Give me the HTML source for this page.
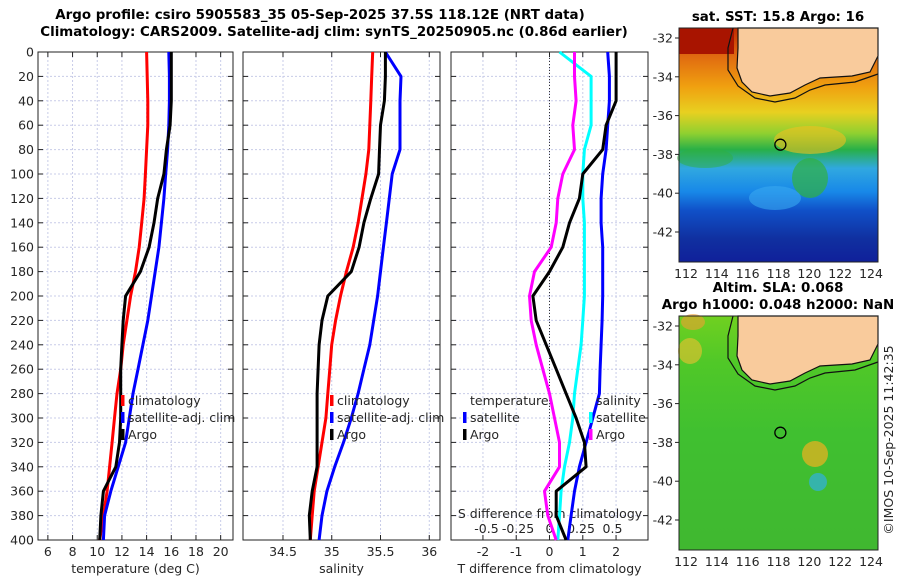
<!DOCTYPE html>
<html><head><meta charset="utf-8"><style>
body{margin:0;background:#fff}
svg{display:block;font-family:"DejaVu Sans","Liberation Sans",sans-serif}
.t{font-size:12.5px;fill:#262626}
.b{font-weight:bold;font-size:13.4px;fill:#000}
</style></head><body>
<svg id="c" width="900" height="580" xmlns="http://www.w3.org/2000/svg">
<text class="b" x="320" y="19" text-anchor="middle">Argo profile: csiro 5905583_35 05-Sep-2025 37.5S 118.12E (NRT data)</text>
<text class="b" x="334" y="36" text-anchor="middle">Climatology: CARS2009. Satellite-adj clim: synTS_20250905.nc (0.86d earlier)</text>
<g id="panels"></g>
<g id="maps"></g>
<text class="t" x="0" y="0" transform="translate(893,440) rotate(-90)" text-anchor="middle">©IMOS 10-Sep-2025 11:42:35</text>
</svg>
<script>
const depths=[0,20,40,60,80,100,120,140,160,180,200,220,240,260,280,300,320,340,360,380,400];
const tClim=[14,14.05,14.1,14.1,14,13.9,13.8,13.6,13.4,13.1,12.7,12.4,12.1,11.9,11.6,11.4,11.2,11,10.8,10.5,10.2];
const tSat=[15.8,15.85,15.85,15.8,15.7,15.55,15.4,15.2,15,14.7,14.4,14.1,13.7,13.3,12.9,12.6,12.3,11.7,11.1,10.6,10.5];
const tArgo=[16,16,16,15.9,15.6,15.4,14.9,14.6,14.2,13.5,12.3,12.1,12,11.9,11.9,11.9,11.8,11.5,10.5,10.3,10.2];
const sClim=[35.42,35.41,35.4,35.39,35.38,35.35,35.31,35.27,35.22,35.15,35.09,35.04,35,34.98,34.96,34.94,34.9,34.86,34.82,34.8,34.78];
const sSat=[35.55,35.71,35.7,35.7,35.7,35.62,35.59,35.56,35.53,35.5,35.47,35.43,35.39,35.33,35.27,35.2,35.12,35.03,34.95,34.9,34.87];
const sArgo=[35.55,35.55,35.54,35.5,35.49,35.48,35.4,35.33,35.28,35.2,34.96,34.9,34.87,34.86,34.85,34.85,34.85,34.85,34.8,34.77,34.78];
const dTsat=[1.75,1.8,1.8,1.75,1.7,1.6,1.55,1.55,1.6,1.6,1.6,1.58,1.55,1.52,1.5,1.3,1.1,0.9,0.75,0.65,0.55];
const dTargo=[2,2,2,1.7,1.6,1.0,0.9,0.6,0.4,0.0,-0.5,-0.4,-0.1,0.2,0.5,0.8,1.05,1.1,0.2,0.2,0.5];
const dSsat=[0.3,1.25,1.25,1.25,1.05,1.0,1.0,1.05,1.05,1.05,1.05,1.0,0.95,0.85,0.75,0.7,0.6,0.45,0.35,0.3,0.25];
const dSargo=[0.75,0.75,0.8,0.7,0.75,0.4,0.25,0.2,0.05,-0.45,-0.6,-0.55,-0.4,-0.2,0.0,0.15,0.3,0.3,-0.15,-0.05,0.2];
const tTicks=[6,8,10,12,14,16,18,20];
const sTicks=[34.5,35,35.5,36];
const dTicks=[-2,-1,0,1,2];
const sdTicks=[-0.5,-0.25,0,0.25,0.5];
const dTickLabels=['-2','-1','0','1','2'];
const sdTickLabels=['-0.5','-0.25','0','0.25','0.5'];
const yTicks=[0,20,40,60,80,100,120,140,160,180,200,220,240,260,280,300,320,340,360,380,400];

const NS='http://www.w3.org/2000/svg';
const top0=52,bot0=540;
function yS(d){return top0+(d/400)*(bot0-top0);}
function mk(tag,attrs,parent){const e=document.createElementNS(NS,tag);for(const k in attrs)e.setAttribute(k,attrs[k]);parent.appendChild(e);return e;}
const P=document.getElementById('panels');
function panel(name,x0,x1,vmin,vmax,ticks,labels,xlabel,showY){
  const g=mk('g',{},P);
  
  
  const xs=v=>x0+(v-vmin)/(vmax-vmin)*(x1-x0);
  yTicks.forEach(d=>{mk('line',{x1:x0,x2:x1,y1:yS(d),y2:yS(d),stroke:'#c8cce8','stroke-width':1,'stroke-dasharray':'2,2'},g);
    mk('line',{x1:x0,x2:x0+5,y1:yS(d),y2:yS(d),stroke:'#222'},g);mk('line',{x1:x1-5,x2:x1,y1:yS(d),y2:yS(d),stroke:'#222'},g);
    if(showY){const t=mk('text',{x:x0-4,y:yS(d)+4.5,'text-anchor':'end',class:'t'},g);t.textContent=d;
      }});
  ticks.forEach((v,i)=>{mk('line',{x1:xs(v),x2:xs(v),y1:top0,y2:bot0,stroke:'#c8cce8','stroke-dasharray':'2,2'},g);
    mk('line',{x1:xs(v),x2:xs(v),y1:bot0-5,y2:bot0,stroke:'#222'},g);mk('line',{x1:xs(v),x2:xs(v),y1:top0,y2:top0+5,stroke:'#222'},g);
    const t=mk('text',{x:xs(v),y:bot0+16,'text-anchor':'middle',class:'t'},g);t.textContent=labels[i];
    });
  mk('rect',{x:x0,y:top0,width:x1-x0,height:bot0-top0,fill:'none',stroke:'#222','stroke-width':1},g);
  const xl=mk('text',{x:(x0+x1)/2,y:bot0+33,'text-anchor':'middle',class:'t'},g);xl.textContent=xlabel;
  
  return {g,xs};
}
function line(p,vals,col,name){
  const d=vals.map((v,i)=>(i?'L':'M')+p.xs(v).toFixed(1)+','+yS(depths[i]).toFixed(1)).join('');
  const e=mk('path',{d:d,fill:'none',stroke:col,'stroke-width':3,'stroke-linejoin':'round'},p.g);
  
  
}
function leg(g,x,y,col,txt,name){
  if(col)mk('rect',{x:x-7,y:y-10,width:3.5,height:11,fill:col},g);
  const t=mk('text',{x:x,y:y,class:'t'},g);t.textContent=txt;
  
  
}
const p1=panel('temperature-panel',38,233,5.2,21,tTicks,tTicks.map(String),'temperature (deg C)',true);
line(p1,tClim,'#f00','temp-climatology-line');line(p1,tSat,'#00f','temp-satellite-line');line(p1,tArgo,'#000','temp-argo-line');
leg(p1.g,128,405,'#f00','climatology','legend-climatology');leg(p1.g,128,422,'#00f','satellite-adj. clim','legend-satellite');leg(p1.g,128,439,'#000','Argo','legend-argo');
const p2=panel('salinity-panel',243,440,34.09,36.11,sTicks,sTicks.map(String),'salinity',false);
line(p2,sClim,'#f00','sal-climatology-line');line(p2,sSat,'#00f','sal-satellite-line');line(p2,sArgo,'#000','sal-argo-line');
leg(p2.g,337,405,'#f00','climatology','legend-climatology');leg(p2.g,337,422,'#00f','satellite-adj. clim','legend-satellite');leg(p2.g,337,439,'#000','Argo','legend-argo');
const p3=panel('difference-panel',451,648,-2.96,2.96,dTicks,dTickLabels,'T difference from climatology',false);
mk('line',{x1:p3.xs(0),x2:p3.xs(0),y1:top0,y2:bot0,stroke:'#333','stroke-dasharray':'1,2'},p3.g);
const sdx=v=>549.5+v*126;
sdTicks.forEach((v,i)=>{const t=mk('text',{x:sdx(v),y:533,'text-anchor':'middle',class:'t'},p3.g);t.textContent=sdTickLabels[i];
  });
const st=mk('text',{x:550,y:518,'text-anchor':'middle',class:'t'},p3.g);st.textContent='S difference from climatology';

line(p3,dSsat,'#0ff','sal-diff-satellite-line');line(p3,dSargo,'#f0f','sal-diff-argo-line');
line(p3,dTsat,'#00f','temp-diff-satellite-line');line(p3,dTargo,'#000','temp-diff-argo-line');
leg(p3.g,470,405,null,'temperature','legend-temperature');leg(p3.g,470,422,'#00f','satellite','legend-temp-satellite');leg(p3.g,470,439,'#000','Argo','legend-temp-argo');
leg(p3.g,596,405,null,'salinity','legend-salinity');leg(p3.g,596,422,'#0ff','satellite','legend-sal-satellite');leg(p3.g,596,439,'#f0f','Argo','legend-sal-argo');

const M=document.getElementById('maps');
const lons=[112,114,116,118,120,122,124];
const lats=[-32,-34,-36,-38,-40,-42];
function map(name,y0,title1,title2,kind){
  const g=mk('g',{},M);
  
  
  const x0=679,x1=878,h=234;
  const lx=v=>686+(v-112)*15.42, ly=v=>y0+10+(-32-v)*19.4;
  const gid='g'+name;
  const defs=mk('defs',{},g);
  const lg=mk('linearGradient',{id:gid,x1:0,y1:0,x2:0,y2:1},defs);
  const stops=kind==='sst'?[[0,'#c02a00'],[0.12,'#e06a10'],[0.25,'#f0a010'],[0.36,'#e8d020'],[0.45,'#90d030'],[0.52,'#28b048'],[0.6,'#30a8e0'],[0.7,'#1888e8'],[0.78,'#1050c8'],[0.9,'#1030a0'],[1,'#10209a']]
    :[[0,'#70d020'],[0.2,'#50c828'],[0.5,'#40c030'],[1,'#40b830']];
  stops.forEach(s=>mk('stop',{offset:s[0],'stop-color':s[1]},lg));
  mk('rect',{x:x0,y:y0,width:x1-x0,height:h,fill:'url(#'+gid+')'},g);
  if(kind==='sst'){
    mk('rect',{x:x0,y:y0,width:55,height:26,fill:'#a81400'},g);
    mk('ellipse',{cx:810,cy:y0+112,rx:36,ry:14,fill:'#f0c020',opacity:0.6},g);
    mk('ellipse',{cx:810,cy:y0+150,rx:18,ry:20,fill:'#30b040',opacity:0.7},g);
    mk('ellipse',{cx:705,cy:y0+130,rx:28,ry:10,fill:'#30b040',opacity:0.5},g);
    mk('ellipse',{cx:775,cy:y0+170,rx:26,ry:12,fill:'#38a8f0',opacity:0.6},g);
  } else {
    mk('circle',{cx:815,cy:y0+138,r:13,fill:'#f0b020',opacity:0.7},g);
    mk('circle',{cx:818,cy:y0+166,r:9,fill:'#30b0e0',opacity:0.7},g);
    mk('ellipse',{cx:690,cy:y0+35,rx:12,ry:13,fill:'#f0c030',opacity:0.6},g);
    mk('ellipse',{cx:693,cy:y0+6,rx:12,ry:8,fill:'#f0a030',opacity:0.6},g);
  }
  const land='M738,0 L878,0 L878,28 L870,44 L852,48 L820,50 L805,57 L790,65 L770,68 L752,64 L742,54 L737,40 L738,20 Z';
  mk('path',{d:land,fill:'#f9cb9c',stroke:'#111','stroke-width':1.2,transform:'translate(0,'+y0+')'},g);
  mk('path',{d:'M733,0 L728,20 L728,42 L738,58 L755,70 L775,74 L795,70 L810,62 L825,57 L855,54 L878,46',fill:'none',stroke:'#111','stroke-width':1.2,transform:'translate(0,'+y0+')'},g);
  const c=mk('circle',{cx:lx(118.12),cy:ly(-37.5),r:5.5,fill:'none',stroke:'#000','stroke-width':1.3},g);
  
  mk('rect',{x:x0,y:y0,width:x1-x0,height:h,fill:'none',stroke:'#222'},g);
  lats.forEach(v=>{mk('line',{x1:x0-4,x2:x0,y1:ly(v),y2:ly(v),stroke:'#222'},g);
    const t=mk('text',{x:x0-6,y:ly(v)+4.5,'text-anchor':'end',class:'t'},g);t.textContent=v;
    });
  lons.forEach(v=>{const t=mk('text',{x:lx(v),y:y0+h+16,'text-anchor':'middle',class:'t'},g);t.textContent=v;
    });
  const t1=mk('text',{x:778,y:y0-(title2?24:7),'text-anchor':'middle',class:'b'},g);t1.textContent=title1;
  
  if(title2){const t2=mk('text',{x:778,y:y0-7,'text-anchor':'middle',class:'b'},g);t2.textContent=title2;
    }
}
map('sst-map',28,'sat. SST: 15.8 Argo: 16',null,'sst');
map('sla-map',316,'Altim. SLA: 0.068','Argo h1000: 0.048 h2000: NaN','sla');
</script>
</body></html>
